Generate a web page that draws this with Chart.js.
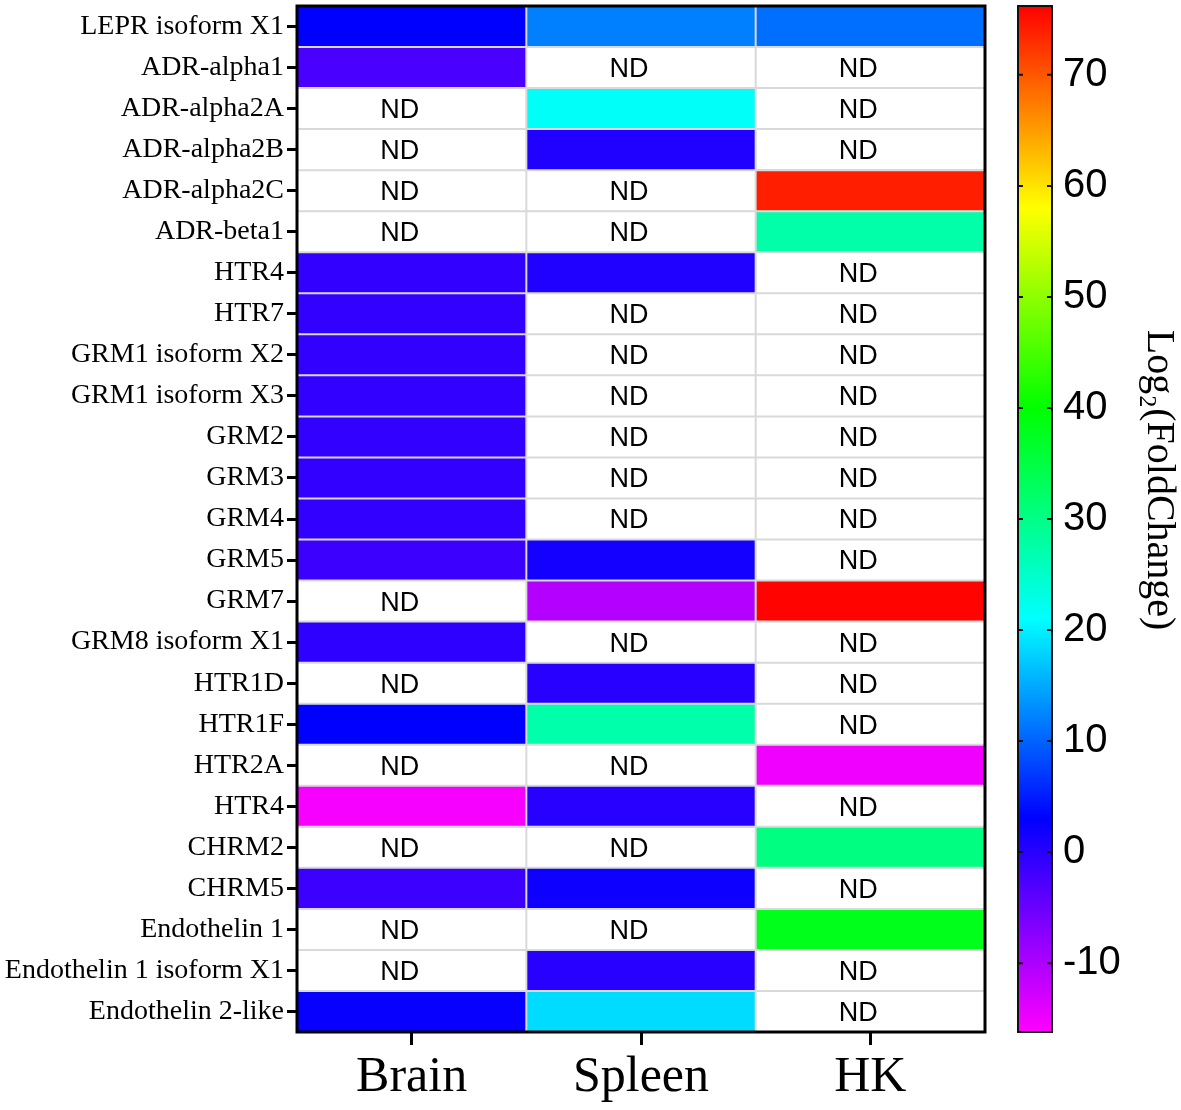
<!DOCTYPE html>
<html>
<head>
<meta charset="utf-8">
<script src="https://cdn.jsdelivr.net/npm/chart.js@4"></script>
<style>
  html, body { margin: 0; padding: 0; background: #ffffff; }
  #wrap { width: 1181px; height: 1110px; position: relative; }
</style>
</head>
<body>
<div id="wrap"><canvas id="c"></canvas></div>
<script>
// ---- data ----
const rows = ["LEPR isoform X1","ADR-alpha1","ADR-alpha2A","ADR-alpha2B","ADR-alpha2C","ADR-beta1","HTR4","HTR7","GRM1 isoform X2","GRM1 isoform X3","GRM2","GRM3","GRM4","GRM5","GRM7","GRM8 isoform X1","HTR1D","HTR1F","HTR2A","HTR4","CHRM2","CHRM5","Endothelin 1","Endothelin 1 isoform X1","Endothelin 2-like"];
const tissues = ["Brain", "Spleen", "HK"];
// log2 fold change, null = ND
const brain  = [3, -2.5, null, null, null, null, -0.8, -0.8, -0.8, -0.8, -0.8, -0.8, -0.8, -1.5, null, -0.5, null, 3, null, -15.5, null, -1.5, null, null, 2.5];
const spleen = [12, null, 21.5, 0.6, null, null, 0.6, null, null, null, null, null, null, 1.5, -10.5, null, 0, 27.3, null, 0, null, 2, null, 0, 18.5];
const hk     = [10.8, null, null, null, 74, 27.5, null, null, null, null, null, null, null, null, 76, null, null, null, -15, null, 30.5, null, 38, null, null];
const cbTicks = [-10, 0, 10, 20, 30, 40, 50, 60, 70];
const cbMin = -16.2, cbMax = 76.2;
const cbTitle = 'Log\u2082(FoldChange)';
// colour map stops
const cmapValues = [-16.2, 3, 21, 40, 58, 76.2];
const cmapColors = [[255,0,255],[0,0,255],[0,255,255],[0,255,0],[255,255,0],[255,0,0]];

function colorFor(v) {
  if (v <= cmapValues[0]) return rgb(cmapColors[0]);
  for (let i = 1; i < cmapValues.length; i++) {
    if (v <= cmapValues[i]) {
      const t = (v - cmapValues[i-1]) / (cmapValues[i] - cmapValues[i-1]);
      const a = cmapColors[i-1], b = cmapColors[i];
      return rgb([0,1,2].map(k => Math.round(a[k] + (b[k]-a[k]) * t)));
    }
  }
  return rgb(cmapColors[cmapColors.length-1]);
}
function rgb(c) { return 'rgb(' + c[0] + ',' + c[1] + ',' + c[2] + ')'; }

const series = [brain, spleen, hk];
const datasets = series.map((vals, c) => ({
  label: tissues[c],
  data: vals.map(v => v === null ? null : [c, c + 1]),
  backgroundColor: vals.map(v => v === null ? 'rgba(0,0,0,0)' : colorFor(v)),
  borderWidth: 0,
  grouped: false,
  barPercentage: 1,
  categoryPercentage: 1,
  xAxisID: 'x',
  yAxisID: 'y'
}));

const heatPlugin = {
  id: 'heatExtras',
  afterDatasetsDraw(chart) {
    const { ctx, chartArea: ca, scales } = chart;
    const x = scales.x, y = scales.y;
    ctx.save();
    // cell separators
    ctx.strokeStyle = '#d9d9d9';
    ctx.lineWidth = 2;
    ctx.beginPath();
    for (let i = 0; i < rows.length - 1; i++) {
      const py = (y.getPixelForValue(i) + y.getPixelForValue(i + 1)) / 2;
      ctx.moveTo(ca.left, py); ctx.lineTo(ca.right, py);
    }
    for (let c = 1; c < tissues.length; c++) {
      const px = x.getPixelForValue(c);
      ctx.moveTo(px, ca.top); ctx.lineTo(px, ca.bottom);
    }
    ctx.stroke();
    // ND labels
    ctx.fillStyle = '#000';
    ctx.font = '27px "Liberation Sans", Arial, sans-serif';
    ctx.textAlign = 'center';
    ctx.textBaseline = 'middle';
    series.forEach((vals, c) => {
      vals.forEach((v, r) => {
        if (v === null) {
          ctx.fillText('ND', x.getPixelForValue(c + 0.5) - 12, y.getPixelForValue(r) + 2);
        }
      });
    });
    // frame
    ctx.strokeStyle = '#000';
    ctx.lineWidth = 3;
    ctx.strokeRect(ca.left, ca.top, ca.right - ca.left, ca.bottom - ca.top);
    // colour bar
    const cb = scales.cb;
    const x0 = ca.right + 33, x1 = ca.right + 67;
    const yTop = cb.getPixelForValue(cbMax), yBot = cb.getPixelForValue(cbMin);
    const g = ctx.createLinearGradient(0, yBot, 0, yTop);
    for (let i = 0; i < cmapValues.length; i++) {
      const t = (cmapValues[i] - cbMin) / (cbMax - cbMin);
      g.addColorStop(Math.min(1, Math.max(0, t)), rgb(cmapColors[i]));
    }
    ctx.fillStyle = g;
    ctx.fillRect(x0, yTop, x1 - x0, yBot - yTop);
    ctx.strokeStyle = '#111';
    ctx.lineWidth = 2;
    ctx.strokeRect(x0, yTop, x1 - x0, yBot - yTop);
    ctx.beginPath();
    cbTicks.forEach(t => {
      const py = cb.getPixelForValue(t);
      ctx.moveTo(x0, py); ctx.lineTo(x0 + 5, py);
      ctx.moveTo(x1 - 5, py); ctx.lineTo(x1, py);
    });
    ctx.stroke();
    // colour bar title (rotated, reading top to bottom)
    ctx.translate(ca.right + 173, cb.getPixelForValue(33.5));
    ctx.rotate(Math.PI / 2);
    ctx.fillStyle = '#000';
    ctx.font = '40px "Liberation Serif", "Times New Roman", serif';
    ctx.textAlign = 'center';
    ctx.textBaseline = 'middle';
    ctx.fillText(cbTitle, 0, 0);
    ctx.restore();
  }
};

function noPadV(s) { s.paddingTop = 0; s.paddingBottom = 0; }

new Chart(document.getElementById('c'), {
  type: 'bar',
  data: { labels: rows, datasets },
  options: {
    indexAxis: 'y',
    responsive: true,
    maintainAspectRatio: false,
    animation: false,
    devicePixelRatio: 1,
    layout: { padding: { top: 6, left: 0, right: 0, bottom: 0 } },
    plugins: { legend: { display: false }, tooltip: { enabled: false } },
    scales: {
      x: {
        type: 'linear',
        position: 'bottom',
        min: 0, max: 3,
        afterBuildTicks: s => { s.ticks = tissues.map((_, i) => ({ value: i + 0.5 })); },
        afterFit: s => { s.height = 78; s.paddingLeft = 0; s.paddingRight = 0; },
        ticks: {
          callback: (v, i) => tissues[i],
          color: '#000',
          font: { family: '"Liberation Serif", "Times New Roman", serif', size: 50 },
          padding: 3,
          maxRotation: 0,
          autoSkip: false
        },
        grid: { display: true, drawOnChartArea: false, drawTicks: true, tickLength: 13, tickColor: '#000', tickWidth: 3, color: '#000', lineWidth: 3 },
        border: { display: false }
      },
      y: {
        type: 'category',
        position: 'left',
        offset: true,
        afterFit: s => { s.width = 297; noPadV(s); },
        ticks: {
          color: '#000',
          font: { family: '"Liberation Serif", "Times New Roman", serif', size: 28 },
          padding: 3,
          autoSkip: false
        },
        grid: { display: true, offset: false, drawOnChartArea: false, drawTicks: true, tickLength: 10, tickColor: '#000', tickWidth: 3, color: '#000', lineWidth: 3 },
        border: { display: false }
      },
      cb: {
        type: 'linear',
        position: 'right',
        offset: false,
        min: cbMin, max: cbMax,
        afterBuildTicks: s => { s.ticks = cbTicks.map(v => ({ value: v })); },
        afterFit: s => { s.width = 196; noPadV(s); },
        ticks: {
          color: '#000',
          font: { family: '"Liberation Sans", Arial, sans-serif', size: 40 },
          padding: 6,
          autoSkip: false
        },
        grid: { display: true, offset: false, drawOnChartArea: false, drawTicks: true, tickLength: 72, tickColor: 'rgba(0,0,0,0)', color: 'rgba(0,0,0,0)' },
        border: { display: false },
        title: { display: false }
      }
    }
  },
  plugins: [heatPlugin]
});
</script>
</body>
</html>
